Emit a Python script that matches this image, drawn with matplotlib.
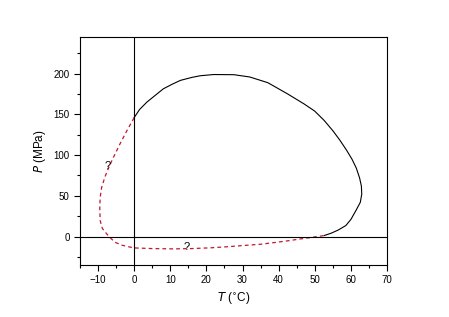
import matplotlib
matplotlib.use('Agg')
import matplotlib.pyplot as plt
from matplotlib.ticker import MultipleLocator

plt.rcParams['font.family'] = ['Liberation Sans', 'DejaVu Sans']

# measured (solid) boundary, T in degC, P in MPa
t_solid = [0, 1.5, 3.5, 6, 8.1, 10.5, 12.8, 16, 18.3, 22, 27.6, 32, 37, 42.4, 47, 50, 52.6,
           55, 57, 58.8, 60.3, 61.5, 62.4, 62.9, 63, 62.6, 61.4, 60, 58.6, 56.5, 54.5, 52.6]
p_solid = [146, 156, 165, 174, 181.5, 187, 191.8, 195.5, 197.5, 199, 198.8, 196, 189, 175.4, 163, 154, 142.6,
           130, 118, 106, 95, 84, 72, 62, 52, 42, 32, 21, 13.5, 8, 4, 1.2]

# extrapolated (dashed) boundary
t_dash = [0, -2, -4, -5.7, -7, -8.1, -9, -9.4, -9.5, -9.4, -8.8, -7.6, -6.5, -5.3, -3.5, -1.1, 0,
          5, 10.9, 16, 21.1, 26, 30.4, 35, 39.6, 43, 46.1, 48.5, 50.7, 52.6]
p_dash = [146, 130, 113, 97.5, 85, 73, 60, 48, 34, 19.7, 10, 3.3, -2, -7, -10.5, -13, -14,
          -14.8, -15.2, -14.8, -13.9, -12.5, -11, -9.5, -7, -5, -2.9, -1.5, 0, 1.2]

qmarks_t = [-7.3, 14.5]
qmarks_p = [87, -13]

fig = plt.figure(figsize=(4.49, 3.17), dpi=100)
ax = fig.add_axes([0.178, 0.164, 0.684, 0.719])

ax.plot(t_solid, p_solid, color='black', lw=0.8)
ax.plot(t_dash, p_dash, color='#c01830', lw=0.9, ls=(0, (3, 2.5)))
for t, p in zip(qmarks_t, qmarks_p):
    ax.text(t, p, '?', fontsize=8, ha='center', va='center')

ax.axhline(0, color='black', lw=0.8)
ax.axvline(0, color='black', lw=0.8)

ax.set_xlim(-15, 70)
ax.set_ylim(-35, 245)
ax.xaxis.set_major_locator(MultipleLocator(10))
ax.xaxis.set_minor_locator(MultipleLocator(5))
ax.yaxis.set_major_locator(MultipleLocator(50))
ax.yaxis.set_minor_locator(MultipleLocator(25))
ax.tick_params(which='both', direction='out', labelsize=7, width=0.8)
ax.tick_params(which='major', length=4)
ax.tick_params(which='minor', length=2)
for s in ax.spines.values():
    s.set_linewidth(0.8)

ax.set_xlabel(r'$T$ ($^{\circ}$C)', fontsize=8.5)
ax.set_ylabel(r'$P$ (MPa)', fontsize=8.5)

fig.savefig('out.png', dpi=100)
